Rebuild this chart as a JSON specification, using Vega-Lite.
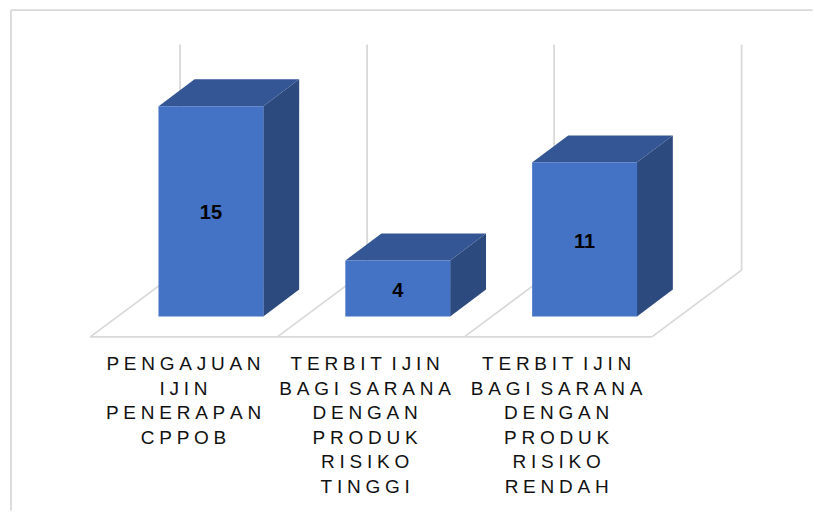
{"$schema":"https://vega.github.io/schema/vega-lite/v6.json","width":814,"height":512,"autosize":{"type":"fit","contains":"padding"},"padding":0,"background":"white","view":{"stroke":null},
"datasets":{
"bars":[
{"label":"P\u2005E\u2005N\u2005G\u2005A\u2005J\u2005U\u2005A\u2005N\nI\u2005J\u2005I\u2005N\nP\u2005E\u2005N\u2005E\u2005R\u2005A\u2005P\u2005A\u2005N\nC\u2005P\u2005P\u2005O\u2005B","position":0,"labelX":-0.147,"value":15,"mid":7.5},
{"label":"T\u2005E\u2005R\u2005B\u2005I\u2005T \u2005I\u2005J\u2005I\u2005N\nB\u2005A\u2005G\u2005I \u2005S\u2005A\u2005R\u2005A\u2005N\u2005A\nD\u2005E\u2005N\u2005G\u2005A\u2005N\nP\u2005R\u2005O\u2005D\u2005U\u2005K\nR\u2005I\u2005S\u2005I\u2005K\u2005O\nT\u2005I\u2005N\u2005G\u2005G\u2005I","position":1,"labelX":0.825,"value":4,"mid":1.95},
{"label":"T\u2005E\u2005R\u2005B\u2005I\u2005T \u2005I\u2005J\u2005I\u2005N\nB\u2005A\u2005G\u2005I \u2005S\u2005A\u2005R\u2005A\u2005N\u2005A\nD\u2005E\u2005N\u2005G\u2005A\u2005N\nP\u2005R\u2005O\u2005D\u2005U\u2005K\nR\u2005I\u2005S\u2005I\u2005K\u2005O\nR\u2005E\u2005N\u2005D\u2005A\u2005H","position":2,"labelX":1.85,"value":11,"mid":5.4}],
"side":[
{"bar":0,"x":0.28,"top":15,"bottom":0},{"bar":0,"x":0.472,"top":16.92,"bottom":1.92},
{"bar":1,"x":1.28,"top":4,"bottom":0},{"bar":1,"x":1.472,"top":5.92,"bottom":1.92},
{"bar":2,"x":2.28,"top":11,"bottom":0},{"bar":2,"x":2.472,"top":12.92,"bottom":1.92}],
"top":[
{"bar":0,"x":-0.28,"top":15,"bottom":15},{"bar":0,"x":-0.088,"top":16.92,"bottom":15},{"bar":0,"x":0.28,"top":16.92,"bottom":15},{"bar":0,"x":0.472,"top":16.92,"bottom":16.92},
{"bar":1,"x":0.72,"top":4,"bottom":4},{"bar":1,"x":0.912,"top":5.92,"bottom":4},{"bar":1,"x":1.28,"top":5.92,"bottom":4},{"bar":1,"x":1.472,"top":5.92,"bottom":5.92},
{"bar":2,"x":1.72,"top":11,"bottom":11},{"bar":2,"x":1.912,"top":12.92,"bottom":11},{"bar":2,"x":2.28,"top":12.92,"bottom":11},{"bar":2,"x":2.472,"top":12.92,"bottom":12.92}],
"grid":[
{"x":-0.1655,"y":19.4,"x2":-0.1655,"y2":3.305},{"x":0.8356,"y":19.4,"x2":0.8356,"y2":3.305},{"x":1.8366,"y":19.4,"x2":1.8366,"y2":3.305},{"x":2.84,"y":19.4,"x2":2.84,"y2":3.305},
{"x":-0.646,"y":-1.457,"x2":-0.1655,"y2":3.305},{"x":0.355,"y":-1.457,"x2":0.8356,"y2":3.305},{"x":1.356,"y":-1.457,"x2":1.8366,"y2":3.305},{"x":2.36,"y":-1.457,"x2":2.84,"y2":3.305},
{"x":-0.646,"y":-1.457,"x2":2.36,"y2":-1.457},
{"x":-1.0705,"y":21.86,"x2":-1.0705,"y2":-13.86},{"x":-1.0705,"y":21.86,"x2":3.22,"y2":21.86}]
},
"layer":[
{"data":{"name":"grid"},"mark":{"type":"rule","color":"#d9d9d9","strokeWidth":1.8},"encoding":{
"x":{"field":"x","type":"quantitative","axis":null,"scale":{"domain":[-1.1292,3.2168],"nice":false,"zero":false,"padding":0}},
"y":{"field":"y","type":"quantitative","axis":null,"scale":{"domain":[-13.81,22.58],"nice":false,"zero":false,"padding":0}},
"x2":{"field":"x2"},"y2":{"field":"y2"}}},
{"data":{"name":"side"},"mark":{"type":"area","color":"#2c4a7e","orient":"vertical"},"encoding":{
"x":{"field":"x","type":"quantitative","axis":null,"scale":{"domain":[-1.1292,3.2168],"nice":false,"zero":false,"padding":0}},
"y":{"field":"top","type":"quantitative","axis":null,"stack":null,"scale":{"domain":[-13.81,22.58],"nice":false,"zero":false,"padding":0}},
"y2":{"field":"bottom"},"detail":{"field":"bar"}}},
{"data":{"name":"top"},"mark":{"type":"area","color":"#345694","orient":"vertical"},"encoding":{
"x":{"field":"x","type":"quantitative","axis":null,"scale":{"domain":[-1.1292,3.2168],"nice":false,"zero":false,"padding":0}},
"y":{"field":"top","type":"quantitative","axis":null,"stack":null,"scale":{"domain":[-13.81,22.58],"nice":false,"zero":false,"padding":0}},
"y2":{"field":"bottom"},"detail":{"field":"bar"}}},
{"data":{"name":"bars"},"mark":{"type":"bar","color":"#4472c4","width":105,"orient":"vertical"},"encoding":{
"x":{"field":"position","type":"quantitative","axis":null,"scale":{"domain":[-1.1292,3.2168],"nice":false,"zero":false,"padding":0}},
"y":{"field":"value","type":"quantitative","axis":null,"scale":{"domain":[-13.81,22.58],"nice":false,"zero":false,"padding":0}}}},
{"data":{"name":"bars"},"mark":{"type":"text","font":"Liberation Sans","fontWeight":"bold","fontSize":20,"color":"black","dy":1.5,"baseline":"middle"},"encoding":{
"x":{"field":"position","type":"quantitative","axis":null,"scale":{"domain":[-1.1292,3.2168],"nice":false,"zero":false,"padding":0}},
"y":{"field":"mid","type":"quantitative","axis":null,"scale":{"domain":[-13.81,22.58],"nice":false,"zero":false,"padding":0}},
"text":{"field":"value","type":"quantitative"}}},
{"data":{"name":"bars"},"mark":{"type":"text","font":"Liberation Sans","fontSize":19,"color":"#111111","align":"center","baseline":"top","lineBreak":"\n","lineHeight":24.5},"encoding":{
"x":{"field":"labelX","type":"quantitative","axis":null,"scale":{"domain":[-1.1292,3.2168],"nice":false,"zero":false,"padding":0}},
"y":{"datum":-2.77,"type":"quantitative","axis":null,"scale":{"domain":[-13.81,22.58],"nice":false,"zero":false,"padding":0}},
"text":{"field":"label","type":"nominal"}}}
]}
